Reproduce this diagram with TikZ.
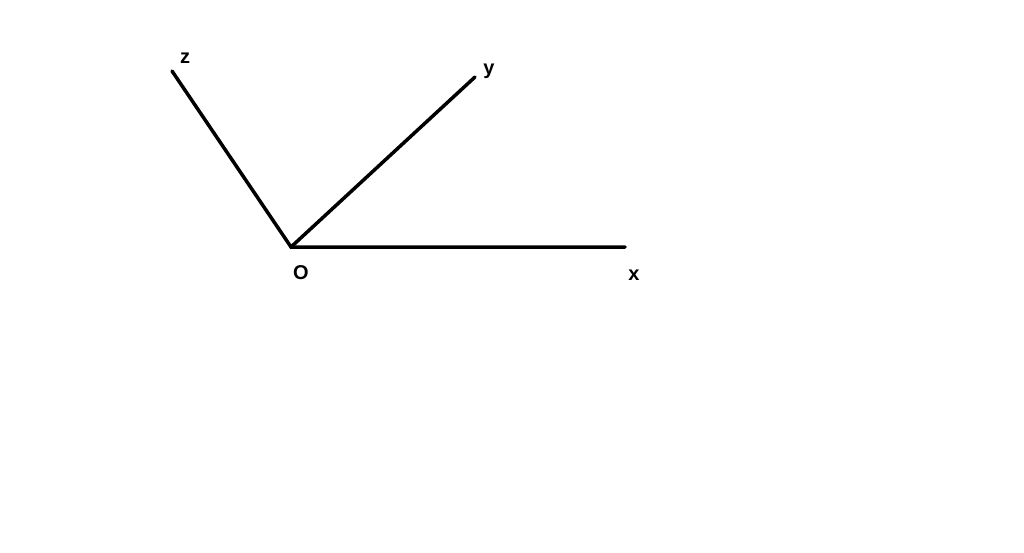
\documentclass[tikz,border=0pt]{standalone}
\usepackage{fontspec}
\setmainfont{Liberation Sans}
\begin{document}
\begin{tikzpicture}[x=1pt,y=-1pt]
	\tikzset{axis/.style={line width=3.5pt,line cap=round}}
	\tikzset{axislabel/.style={font=\fontsize{20}{22}\selectfont\bfseries,inner sep=0pt}}

	\useasboundingbox (0,0) rectangle (1024,552);

	\coordinate (O) at (291,247);
	\coordinate (xend) at (625,247);
	\coordinate (yend) at (475,77);
	\coordinate (zend) at (172,71);

	\draw[axis] (zend) -- (O) -- (xend);
	\draw[axis] (O) -- (yend);

	\node[axislabel] (lz) at (185,58) {z};
	\node[axislabel] (ly) at (489,71) {y};
	\node[axislabel] (lO) at (301,273) {O};
	\node[axislabel] (lx) at (634,275) {x};

\end{tikzpicture}
\end{document}
